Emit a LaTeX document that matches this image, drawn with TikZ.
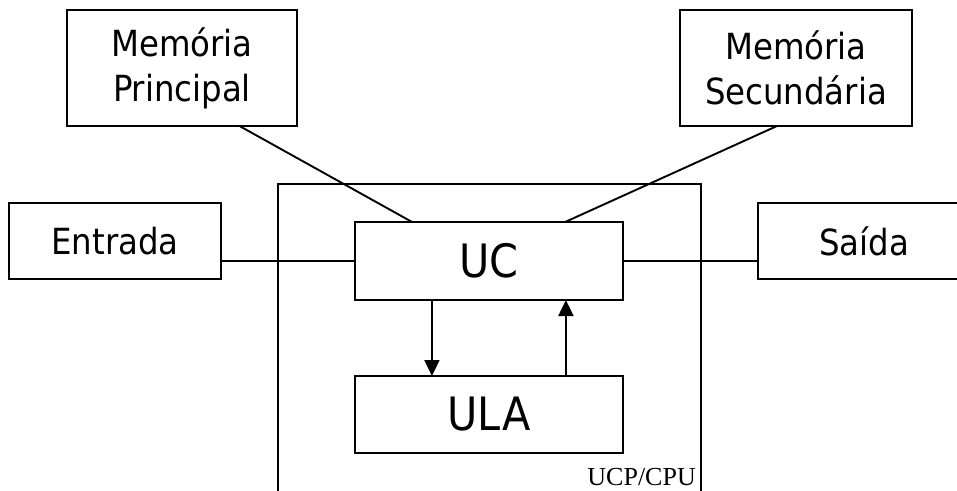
\documentclass[tikz,border=0pt]{standalone}
\usepackage{fontspec}
\setmainfont{DejaVu Sans Condensed}
\newfontfamily\serifcpu{Liberation Serif}
\usetikzlibrary{arrows.meta,calc}
\begin{document}
\begin{tikzpicture}[x=1pt,y=-1pt,
  box/.style={draw,line width=1.9pt,rectangle,inner sep=0pt,outer sep=0pt,align=center},
  small/.style={font=\fontsize{36}{45}\selectfont},
  big/.style={font=\fontsize{46}{50}\selectfont},
  conn/.style={line width=1.9pt},
  arr/.style={line width=1.9pt,-{Triangle[width=15pt,length=16pt]}}]
\useasboundingbox (0,0) rectangle (957,490);
\node[box,minimum width=423pt,minimum height=330pt] (cpu) at (489.5,349) {};
\node[box,small,minimum width=230pt,minimum height=116pt] (mp) at (182,68) {Memória\\Principal};
\node[box,small,minimum width=232pt,minimum height=116pt] (ms) at (796,68) {Memória\\Secundária};
\node[box,small,minimum width=212pt,minimum height=76pt] (ent) at (115,241) {Entrada};
\node[box,small,minimum width=212pt,minimum height=76pt] (sai) at (864,241) {Saída};
\node[box,big,fill=white,minimum width=268pt,minimum height=78pt] (uc) at (489,261) {UC};
\node[box,big,fill=white,minimum width=268pt,minimum height=77pt] (ula) at (489,414.5) {ULA};
\node[anchor=base east,inner sep=0pt,font=\serifcpu\fontsize{26}{28}\selectfont] (lbl) at (696,485) {UCP/CPU};
\draw[conn] (uc.west) -- (uc.west -| ent.east);
\draw[conn] (uc.east) -- (uc.east -| sai.west);
\draw[conn] ($(mp.south west)!0.75!(mp.south east)$) -- ($(uc.north west)!0.213!(uc.north east)$);
\draw[conn] ($(ms.south west)!0.418!(ms.south east)$) -- ($(uc.north west)!0.784!(uc.north east)$);
\draw[arr] ($(uc.south west)!0.287!(uc.south east)$) -- ($(ula.north west)!0.287!(ula.north east)$);
\draw[arr] ($(ula.north west)!0.787!(ula.north east)$) -- ($(uc.south west)!0.787!(uc.south east)$);
\end{tikzpicture}
\end{document}
